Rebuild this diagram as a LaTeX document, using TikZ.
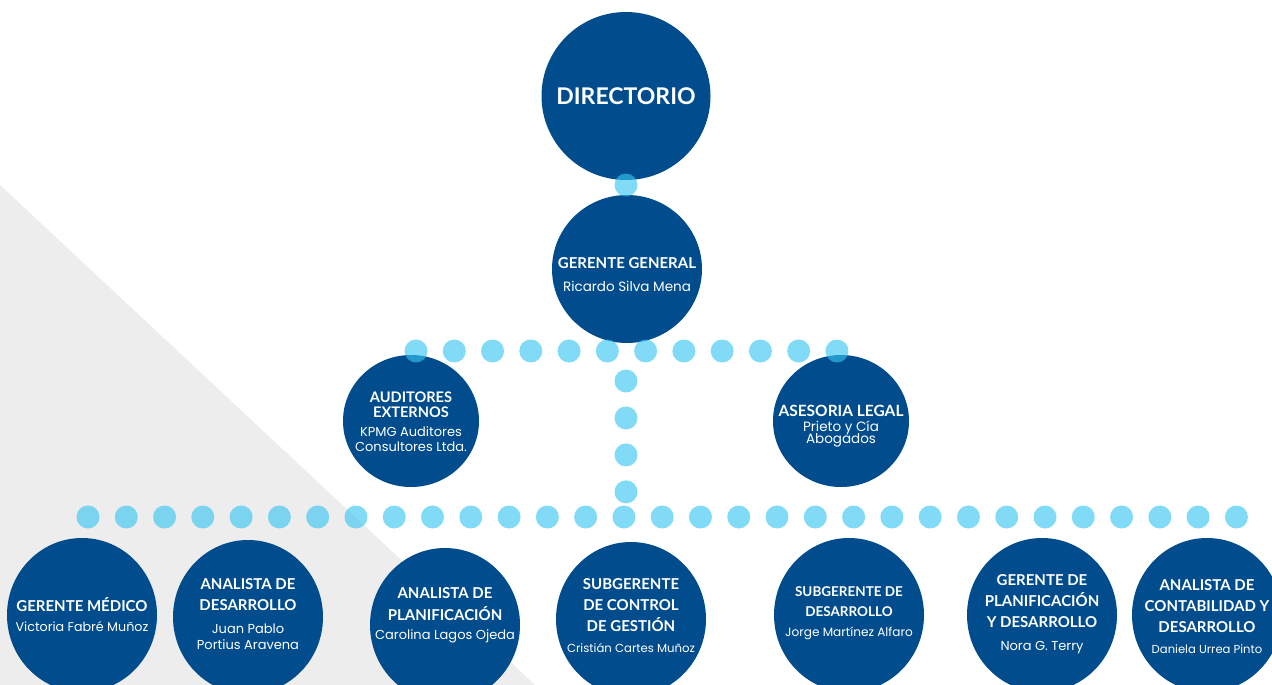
\documentclass[tikz,border=0pt]{standalone}
\usepackage{fontspec}
\setmainfont{Lato}
\newfontfamily\namefont{Poppins}
\usetikzlibrary{shapes.geometric,positioning}
\definecolor{orgblue}{RGB}{0,76,140}
\definecolor{dotblue}{RGB}{55,197,241}
\definecolor{bggray}{RGB}{237,237,237}
\newcommand{\nm}[2][13]{{\namefont\mdseries\fontsize{#1}{#1}\selectfont #2}}

\begin{document}
\begin{tikzpicture}[
x=1pt,y=-1pt,
unit/.style={
  ellipse,
  fill=orgblue,
  inner sep=0pt,
  minimum width=150pt,
  minimum height=154pt
},
lbl/.style={
  text=white,
  align=center,
  inner sep=0pt,
  font=\bfseries\fontsize{15}{21}\selectfont
},
beads/.style={
  draw=dotblue,
  draw opacity=.63,
  line width=23pt,
  line cap=round,
  dash pattern=on 0pt off #1
},
beads/.default=38.27pt
]
\useasboundingbox (0,0) rectangle (1272,685);
\fill[bggray] (0,185) -- (0,685) -- (535,685) -- cycle;

% top
\node[unit,minimum width=169pt,minimum height=168pt] 
  (dir) at (626,96) {};
\node[unit,minimum height=148pt] 
  (gg) at (627,269) {};
\node[unit,minimum width=136pt,minimum height=132pt] 
  (aud) at (411,421) {};
\node[unit,minimum width=136pt,minimum height=132pt] 
  (ase) at (841,421) {};

% bottom row
\node[unit] (gm) at (82,615) {};
\node[unit] (ad) at (248,617) {};
\node[unit] (ap) at (445,625) {};
\node[unit] (scg) at (631,619) {};
\node[unit] (sd) at (849,615) {};
\node[unit] (gpd) at (1042,615) {};
\node[unit] (acd) at (1207,615) {};

\coordinate (link) at (626,185);
\coordinate (ul) at (416,351);
\coordinate (ur) at (837,351);
\coordinate (vt) at (626,381);
\coordinate (vb) at (626,492);
\coordinate (bl) at (88,517);
\coordinate (br) at (1237,517);

\draw[beads] (link) -- ++(0,1);
\draw[beads] (ul) -- (ur);
\draw[beads=36.95pt] (vt) -- (vb);
\draw[beads=38.28pt] (bl) -- (br);

\node[lbl,font=\bfseries\fontsize{23}{23}\selectfont] 
  (dirt) at (dir) {DIRECTORIO};
\node[lbl,font=\bfseries\fontsize{15}{22}\selectfont] 
  (ggt) at ([yshift=-6pt]gg.center) 
  {GERENTE GENERAL\\[1pt]\nm[13.5]{Ricardo Silva Mena}};
\node[lbl,font=\bfseries\fontsize{14.6}{15}\selectfont] 
  (audt) at ([yshift=-1pt]aud.center) 
  {AUDITORES\\EXTERNOS\\[4pt]\nm{KPMG Auditores}\\\nm{Consultores Ltda.}};
\node[lbl,font=\bfseries\fontsize{15.5}{15}\selectfont] 
  (aset) at ([yshift=-5pt]ase.center) 
  {ASESORIA LEGAL\\\nm[13.5]{Prieto y Cía}\\[-3pt]\nm[13.5]{Abogados}};

\node[lbl] (gmt) at (gm.center) 
  {GERENTE MÉDICO\\[-1pt]\nm[12.7]{Victoria Fabré Muñoz}};
\node[lbl] (adt) at ([yshift=2.5pt]ad.center) 
  {ANALISTA DE\\DESARROLLO\\[2pt]\nm{Juan Pablo}\\[-5pt]\nm{Portius Aravena}};
\node[lbl] (apt) at ([yshift=10pt]ap.center) 
  {ANALISTA DE\\[1pt]PLANIFICACIÓN\\[-2pt]\nm{Carolina Lagos Ojeda}};
\node[lbl] (scgt) at ([yshift=3.5pt]scg.center) 
  {SUBGERENTE\\DE CONTROL\\DE GESTIÓN\\\nm[11.7]{Cristián Cartes Muñoz}};
\node[lbl,font=\bfseries\fontsize{13.5}{20}\selectfont] 
  (sdt) at ([yshift=1.5pt]sd.center) 
  {SUBGERENTE DE\\DESARROLLO\\\nm[12.1]{Jorge Martínez Alfaro}};
\node[lbl] (gpdt) at ([yshift=0.5pt]gpd.center) 
  {GERENTE DE\\PLANIFICACIÓN\\Y DESARROLLO\\[2pt]\nm{Nora G. Terry}};
\node[lbl] (acdt) at ([yshift=-2pt]acd.center) 
  {ANALISTA DE\\CONTABILIDAD Y\\DESARROLLO\\\nm[11.6]{Daniela Urrea Pinto}};
\end{tikzpicture}
\end{document}
